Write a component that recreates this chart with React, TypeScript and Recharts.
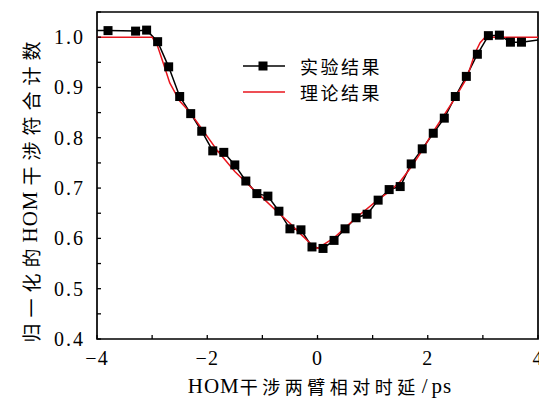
import React from 'react';
import { ComposedChart, Line, XAxis, YAxis, ReferenceArea } from 'recharts';

// Experimental data (delay in ps, normalized coincidence counts)
const expX = [-4.3, -3.8, -3.3, -3.1, -2.9, -2.7, -2.5, -2.3, -2.1, -1.9, -1.7, -1.5, -1.3, -1.1, -0.9, -0.7, -0.5, -0.3, -0.1, 0.1, 0.3, 0.5, 0.7, 0.9, 1.1, 1.3, 1.5, 1.7, 1.9, 2.1, 2.3, 2.5, 2.7, 2.9, 3.1, 3.3, 3.5, 3.7, 4.2];
const expY = [1.013, 1.013, 1.012, 1.014, 0.991, 0.941, 0.882, 0.848, 0.813, 0.774, 0.771, 0.746, 0.714, 0.689, 0.684, 0.654, 0.619, 0.617, 0.583, 0.580, 0.596, 0.619, 0.641, 0.648, 0.676, 0.697, 0.703, 0.748, 0.778, 0.809, 0.839, 0.882, 0.922, 0.966, 1.003, 1.004, 0.990, 0.990, 0.997];

// Theoretical curve
const theoryX = [-4, -3.0, -2.9, -2.8, -2.68, -2.5, -2.31, -2.1, -1.8, -1.5, -1.2, -1.0, -0.7, -0.5, -0.3, -0.1, 0, 0.3, 0.7, 1.1, 1.3, 1.5, 1.7, 1.9, 2.1, 2.46, 2.71, 2.86, 2.95, 3.04, 4];
const theoryY = [1.0, 1.0, 0.982, 0.949, 0.909, 0.873, 0.850, 0.818, 0.772, 0.733, 0.701, 0.681, 0.650, 0.630, 0.608, 0.587, 0.580, 0.601, 0.641, 0.677, 0.693, 0.713, 0.742, 0.775, 0.812, 0.873, 0.919, 0.969, 0.989, 1.0, 1.0];

const xTicks = [-4, -3, -2, -1, 0, 1, 2, 3, 4];
const xTickLabels = ['−4', '', '−2', '', '0', '', '2', '', '4'];
const yTicks = [0.4, 0.45, 0.5, 0.55, 0.6, 0.65, 0.7, 0.75, 0.8, 0.85, 0.9, 0.95, 1.0, 1.05];
const yTickLabels = ['0.4', '', '0.5', '', '0.6', '', '0.7', '', '0.8', '', '0.9', '', '1.0', ''];
const seriesNames = ['实验结果', '理论结果'];
const xTitle = ['HOM', '干涉两臂相对时延', '/', 'ps'];
const yTitle = ['归一化的', 'HOM', '干涉符合计数'];

const expData = expX.map((x, i) => ({ x, y: expY[i] }));
const theoryData = theoryX.map((x, i) => ({ x, y: theoryY[i] }));

const SERIF = '"Liberation Serif", "Times New Roman", serif';
const CJK = '"Noto Sans CJK SC", "Noto Sans", sans-serif';
const RED = '#e8141c';

function XTick(props: any) {
  const { x, y, payload } = props;
  const idx = xTicks.findIndex((t) => Math.abs(t - payload.value) < 1e-9);
  const label = idx >= 0 ? xTickLabels[idx] : '';
  return (
    <g>
      <line x1={x} y1={y} x2={x} y2={y - 4} stroke="#000" strokeWidth={1.3} />
      {label ? (
        <text x={x} y={y + 26} textAnchor="middle" fontFamily={SERIF} fontSize={20} letterSpacing={1} fill="#000">
          {label}
        </text>
      ) : null}
    </g>
  );
}

function YTick(props: any) {
  const { x, y, payload } = props;
  const idx = yTicks.findIndex((t) => Math.abs(t - payload.value) < 1e-9);
  const label = idx >= 0 ? yTickLabels[idx] : '';
  return (
    <g>
      <line x1={x} y1={y} x2={x + 4} y2={y} stroke="#000" strokeWidth={1.3} />
      {label ? (
        <text x={x - 12} y={y + 7} textAnchor="end" fontFamily={SERIF} fontSize={20} letterSpacing={2} fill="#000">
          {label}
        </text>
      ) : null}
    </g>
  );
}

function SquareDot(props: any) {
  const { cx, cy, index } = props;
  if (cx == null || cy == null) return <g key={index} />;
  return <rect key={index} x={cx - 4.5} y={cy - 4.5} width={9} height={9} fill="#000" />;
}

function YTitle() {
  return (
    <text
      x={30}
      y={189}
      transform="rotate(-90, 30, 189)"
      textAnchor="middle"
      dominantBaseline="central"
      fill="#000"
    >
      <tspan fontFamily={CJK} fontSize={19} letterSpacing={6}>{yTitle[0]}</tspan>
      <tspan fontFamily={SERIF} fontSize={21} letterSpacing={1}>{yTitle[1]}</tspan>
      <tspan fontFamily={CJK} fontSize={19} letterSpacing={6} dx={5}>{yTitle[2]}</tspan>
    </text>
  );
}

function XTitle() {
  return (
    <text x={320} y={386} textAnchor="middle" dominantBaseline="central" fill="#000">
      <tspan fontFamily={SERIF} fontSize={21} letterSpacing={1}>{xTitle[0]}</tspan>
      <tspan fontFamily={CJK} fontSize={18} letterSpacing={4.5}>{xTitle[1]}</tspan>
      <tspan fontFamily={SERIF} fontSize={21} dx={2}>{xTitle[2]}</tspan>
      <tspan fontFamily={SERIF} fontSize={21} dx={4} letterSpacing={1}>{xTitle[3]}</tspan>
    </text>
  );
}

export default function App() {
  return (
    <div style={{ position: 'absolute', left: 0, top: 0, width: 539, height: 401, background: '#fff' }}>
      <ComposedChart
        width={539}
        height={401}
        margin={{ top: 12, right: 1, bottom: 0, left: 0 }}
      >
        <XAxis
          type="number"
          dataKey="x"
          domain={[-4, 4]}
          ticks={xTicks}
          interval={0}
          allowDataOverflow
          axisLine={false}
          tickLine={false}
          tickSize={0}
          tickMargin={0}
          height={62}
          tick={<XTick />}
          label={<XTitle />}
        />
        <YAxis
          type="number"
          dataKey="y"
          domain={[0.4, 1.05]}
          ticks={yTicks}
          interval={0}
          allowDataOverflow
          axisLine={false}
          tickLine={false}
          tickSize={0}
          tickMargin={0}
          width={97}
          tick={<YTick />}
          label={<YTitle />}
        />
        <ReferenceArea x1={-4} x2={4} y1={0.4} y2={1.05} fill="none" stroke="#000" strokeWidth={1.7} ifOverflow="visible" />
        <Line
          data={expData}
          dataKey="y"
          name={seriesNames[0]}
          type="linear"
          stroke="#000"
          strokeWidth={1.5}
          dot={<SquareDot />}
          activeDot={false}
          isAnimationActive={false}
        />
        <Line
          data={theoryData}
          dataKey="y"
          name={seriesNames[1]}
          type="linear"
          stroke={RED}
          strokeWidth={1.5}
          dot={false}
          activeDot={false}
          isAnimationActive={false}
        />
      </ComposedChart>
      <svg
        width={539}
        height={401}
        style={{ position: 'absolute', left: 0, top: 0, pointerEvents: 'none' }}
      >
        <line x1={243} y1={66} x2={285} y2={66} stroke="#000" strokeWidth={1.5} />
        <rect x={258.5} y={61.5} width={9} height={9} fill="#000" />
        <text x={300} y={66} dominantBaseline="central" fontFamily={CJK} fontSize={18} letterSpacing={2.5} fill="#000">
          {seriesNames[0]}
        </text>
        <line x1={243} y1={92} x2={285} y2={92} stroke={RED} strokeWidth={1.5} />
        <text x={300} y={92} dominantBaseline="central" fontFamily={CJK} fontSize={18} letterSpacing={2.5} fill="#000">
          {seriesNames[1]}
        </text>
      </svg>
    </div>
  );
}
